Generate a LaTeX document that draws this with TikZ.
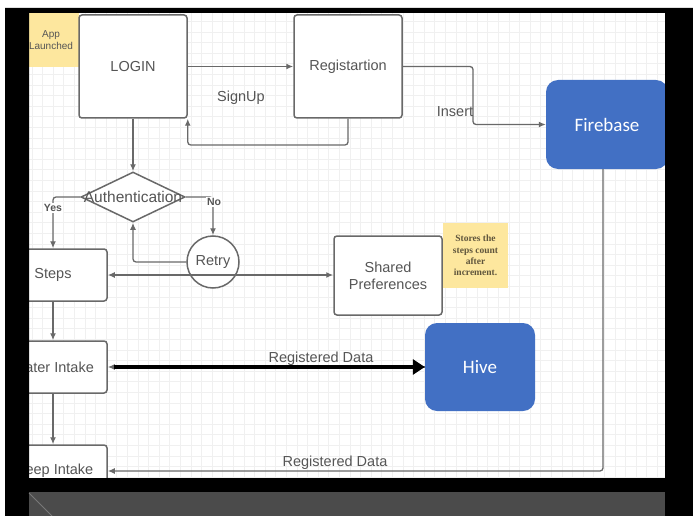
\documentclass[tikz,border=0pt]{standalone}
\usepackage{fontspec}
\setmainfont{Liberation Sans}
\newfontfamily\dbfont{Carlito}
\newfontfamily\notefont{Liberation Serif}
\usepackage{xcolor}
\usepackage{tikz}
\usetikzlibrary{arrows.meta,shapes.geometric}

\definecolor{linegray}{RGB}{105,105,105}
\definecolor{textgray}{RGB}{85,85,85}
\definecolor{gridminor}{RGB}{240,240,240}
\definecolor{noteyellow}{RGB}{253,231,158}
\definecolor{notetext}{RGB}{95,85,60}
\definecolor{dbblue}{RGB}{66,112,196}
\definecolor{stripgray}{RGB}{75,75,75}

\begin{document}
\begin{tikzpicture}[x=1pt, y=-1pt,
		every node/.style={text=textgray, font=\fontsize{14.5}{17}\selectfont},
		box/.style={draw=linegray, line width=1.5pt, rounded corners=3pt, fill=white,
			minimum width=108pt, minimum height=52pt, inner sep=0pt},
		db/.style={fill=dbblue, rounded corners=12pt, inner sep=0pt, text=white,
			font=\dbfont\fontsize{19}{22}\selectfont},
		sticky/.style={fill=noteyellow, inner sep=0pt},
		arr/.style={draw=linegray, line width=1.3pt, rounded corners=3pt,
			-{Latex[length=7pt,width=6pt]}},
		bigarr/.style={draw=black, line width=4pt, -{Triangle[length=12pt,width=15pt]}},
		lbl/.style={inner sep=1pt},
		yesno/.style={inner sep=1pt, fill=white, font=\bfseries\fontsize{10.5}{12}\selectfont}]
		\useasboundingbox (0,0) rectangle (693,516);
		% Frame and grid
		\fill[white] (0,0) rectangle (693,516);
		\draw[gridminor, line width=0.5pt, step=10.6pt] (29,13) grid (665,478);
		\begin{scope}
		\clip (29,13) rectangle (665,478);
		% Picture nodes
		%% Top row
		\node[sticky, minimum width=56pt, minimum height=54pt, align=center,
			font=\fontsize{10}{12}\selectfont] (app) at (51,40) {App\\Launched};
		\node[box, minimum height=103pt] (login) at (133,66.5) {LOGIN};
		\node[box, minimum height=103pt] (reg) at (348,66.5) {Registartion};
		\node[db, minimum width=122pt, minimum height=89pt] (fire) at (607,124.5) {Firebase};
		%% Middle
		\node[diamond, draw=linegray, line width=1.5pt, fill=white, inner sep=0pt,
			minimum width=104pt, minimum height=50pt,
			font=\fontsize{15.5}{17}\selectfont] (auth) at (133,197) {\makebox[0pt]{Authentication}};
		\node[circle, draw=linegray, line width=1.5pt, fill=white, inner sep=0pt,
			minimum size=52pt] (retry) at (213,262) {Retry};
		\node[box, minimum height=79pt, align=center] (shared) at (388,275.5) {Shared\\Preferences};
		\node[sticky, minimum width=65pt, minimum height=65pt, align=center,
			text=notetext, font=\notefont\bfseries\fontsize{9.5}{11.4}\selectfont] (note) at (475.5,255.5)
			{Stores the\\steps count\\after\\increment.};
		%% Left column
		\node[box] (steps) at (53,275) {Steps};
		\node[box] (water) at (53,367) {Water Intake};
		\node[box] (sleep) at (53,471) {Sleep Intake};
		\node[db, minimum width=110pt, minimum height=88pt] (hive) at (480,367) {Hive};
		%% Turning points
		\coordinate (regback) at (348,145);
		\coordinate (insturn) at (473,66.5);
		\coordinate (firedown) at (603,471);
		% Picture arcs
		\draw[arr] (login.east) to (reg.west);
		\draw[arr] (reg.south) -- (regback) -| (login.south east);
		\draw[arr] (reg.east) -- (insturn) |- (fire.west);
		\draw[arr] (login.south) to (auth.north);
		\draw[arr] (auth.west) -| (steps.north);
		\draw[arr] (auth.east) -| (retry.north);
		\draw[arr] (retry.west) -| (auth.south);
		\draw[arr, {Latex[length=7pt,width=6pt]}-{Latex[length=7pt,width=6pt]}]
			(steps.east) to (steps.east -| shared.west);
		\draw[arr] (steps.south) to (water.north);
		\draw[arr] (water.south) to (sleep.north);
		\draw[arr] (hive.west) to (water.east);
		\draw[bigarr] ([xshift=6pt]water.east) to (hive.west);
		\draw[arr] (fire.south -| firedown) -- (firedown) -- (firedown -| sleep.east);
		% Connector labels
		\node[lbl] (signup) at (241,98) {SignUp};
		\node[lbl] (insert) at (455,112) {Insert};
		\node[yesno] (yes) at (53,208) {Yes};
		\node[yesno] (no) at (214,202) {No};
		\node[lbl] (data1) at (321,359) {Registered Data};
		\node[lbl] (data2) at (335,463) {Registered Data};
		\end{scope}
		% Screen border
		\fill[black, even odd rule] (5,8) rectangle (693,516) (29,13) rectangle (665,478);
		\fill[stripgray] (29,492) rectangle (665,516);
		\draw[stripgray!75!white, line width=1pt] (29,493) -- (52,516);
	\end{tikzpicture}
\end{document}
